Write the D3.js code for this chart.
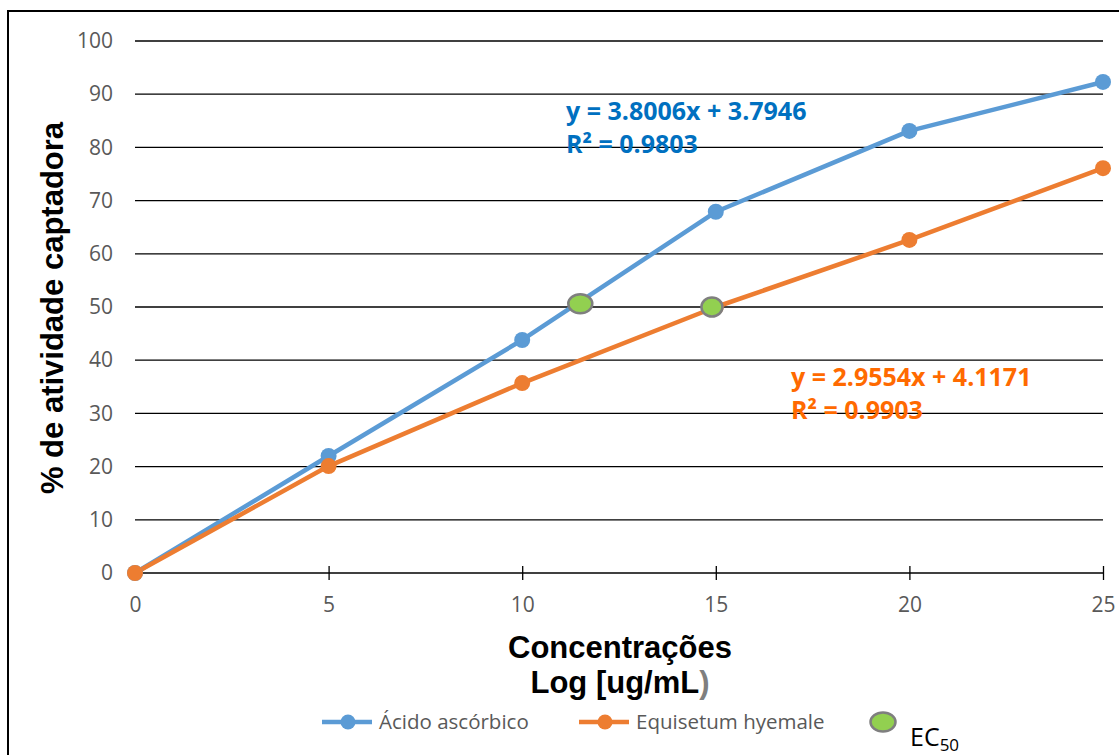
<!DOCTYPE html>
<html>
<head>
<meta charset="utf-8">
<script src="https://cdn.jsdelivr.net/npm/d3@7"></script>
<style>
  body { margin: 0; background: #fff; }
  svg { display: block; }
</style>
</head>
<body>
<div id="chart"></div>
<script>
// data
const concentrations = [0, 5, 10, 15, 20, 25];
const acidoValues = [0, 22, 43.8, 67.9, 83.1, 92.3];
const equisetumValues = [0, 20.1, 35.7, 50, 62.6, 76.1];
const ec50X = [11.5, 14.9];
const ec50Y = [50.6, 50];
const xTicks = [0, 5, 10, 15, 20, 25];
const yTicks = [0, 10, 20, 30, 40, 50, 60, 70, 80, 90, 100];

const width = 1119, height = 755;
const blue = "#5b9bd5", orange = "#ed7d31", green = "#92d050";

const svg = d3.select("#chart").append("svg")
    .attr("width", width)
    .attr("height", height);

// outer chart frame (runs past the window on the right / bottom)
svg.append("rect")
    .attr("x", 8).attr("y", 11)
    .attr("width", width + 20).attr("height", height + 20)
    .attr("fill", "white")
    .attr("stroke", "black")
    .attr("stroke-width", 2);

const x = d3.scaleLinear().domain([0, 25]).range([135, 1103]);
const y = d3.scaleLinear().domain([0, 100]).range([573, 41]);

// horizontal grid
svg.append("g")
    .selectAll("line")
    .data(yTicks.filter(d => d > 0))
    .enter().append("line")
    .attr("x1", x(0)).attr("x2", x(25))
    .attr("y1", d => y(d)).attr("y2", d => y(d))
    .attr("stroke", "black")
    .attr("stroke-width", 1.3);

// y tick labels
const yAxis = d3.axisLeft(y).tickValues(yTicks).tickSize(0).tickPadding(22);
const gy = svg.append("g")
    .attr("transform", `translate(${x(0)},0)`)
    .call(yAxis);
gy.select(".domain").remove();
gy.selectAll("text")
    .attr("fill", "#595959")
    .style("font-family", "'Open Sans', sans-serif")
    .style("font-size", "21px");

// x axis
const xAxis = d3.axisBottom(x).tickValues(xTicks).tickSize(7).tickPadding(17);
const gx = svg.append("g")
    .attr("transform", `translate(0,${y(0)})`)
    .call(xAxis);
gx.select(".domain").attr("stroke", "black").attr("stroke-width", 1.3).attr("d", `M${x(0)},0H${x(25)}`);
gx.selectAll(".tick line").attr("stroke", "black").attr("stroke-width", 1.3).attr("y1", -7).attr("y2", 7);
gx.selectAll("text")
    .attr("fill", "#595959")
    .style("font-family", "'Open Sans', sans-serif")
    .style("font-size", "21px");

// axis titles
svg.append("text")
    .attr("transform", `translate(63,${308}) rotate(-90)`)
    .attr("text-anchor", "middle")
    .style("font-family", "'Liberation Sans', Arial, sans-serif")
    .style("font-weight", "bold")
    .style("font-size", "31px")
    .text("% de atividade captadora");

svg.append("text")
    .attr("x", 620).attr("y", 658)
    .attr("text-anchor", "middle")
    .style("font-family", "'Liberation Sans', Arial, sans-serif")
    .style("font-weight", "bold")
    .style("font-size", "31px")
    .text("Concentrações");

const xt2 = svg.append("text")
    .attr("x", 620).attr("y", 693)
    .attr("text-anchor", "middle")
    .style("font-family", "'Liberation Sans', Arial, sans-serif")
    .style("font-weight", "bold")
    .style("font-size", "31px");
xt2.append("tspan").text("Log [ug/mL");
xt2.append("tspan").attr("fill", "#7f7f7f").text(")");

// series
const line = d3.line().x(d => x(d[0])).y(d => y(d[1]));
const series = [
    {name: "Ácido ascórbico", values: acidoValues, color: blue},
    {name: "Equisetum hyemale", values: equisetumValues, color: orange}
];

series.forEach(s => {
    const pts = concentrations.map((c, i) => [c, s.values[i]]);
    svg.append("path")
        .datum(pts)
        .attr("d", line)
        .attr("fill", "none")
        .attr("stroke", s.color)
        .attr("stroke-width", 4.5)
        .attr("stroke-linejoin", "round");
});
// markers after both lines (orange on top like the picture)
series.forEach(s => {
    svg.append("g").selectAll("circle")
        .data(concentrations.map((c, i) => [c, s.values[i]]))
        .enter().append("circle")
        .attr("cx", d => x(d[0]))
        .attr("cy", d => y(d[1]))
        .attr("r", 8)
        .attr("fill", s.color);
});

// EC50 markers
svg.append("g").selectAll("ellipse")
    .data(ec50X.map((v, i) => [v, ec50Y[i]]))
    .enter().append("ellipse")
    .attr("cx", d => x(d[0]))
    .attr("cy", d => y(d[1]))
    .attr("rx", (d, i) => i === 0 ? 12 : 10.5)
    .attr("ry", 9.5)
    .attr("fill", green)
    .attr("stroke", "#7f7f7f")
    .attr("stroke-width", 2.5);

// regression equations
function equation(xPos, yPos, color, l1, l2) {
    const t = svg.append("text")
        .attr("fill", color)
        .style("font-family", "'Open Sans', sans-serif")
        .style("font-weight", "bold")
        .style("font-size", "25px");
    t.append("tspan").attr("x", xPos).attr("y", yPos).text(l1);
    t.append("tspan").attr("x", xPos).attr("y", yPos + 33).text(l2);
}
equation(566, 120, "#0070c0", "y = 3.8006x + 3.7946", "R² = 0.9803");
equation(791, 386, "#ff6a00", "y = 2.9554x + 4.1171", "R² = 0.9903");

// legend
const legend = svg.append("g").attr("transform", "translate(0,722)");
const legendItems = [
    {name: series[0].name, color: blue, x0: 322},
    {name: series[1].name, color: orange, x0: 579}
];
legendItems.forEach(it => {
    legend.append("line")
        .attr("x1", it.x0).attr("x2", it.x0 + 50)
        .attr("y1", 0).attr("y2", 0)
        .attr("stroke", it.color)
        .attr("stroke-width", 4.5);
    legend.append("circle")
        .attr("cx", it.x0 + 26).attr("cy", 0)
        .attr("r", 7.5)
        .attr("fill", it.color);
    legend.append("text")
        .attr("x", it.x0 + 57).attr("y", 7)
        .attr("fill", "#595959")
        .style("font-family", "'Open Sans', sans-serif")
        .style("font-size", "20.5px")
        .text(it.name);
});
legend.append("ellipse")
    .attr("cx", 883).attr("cy", 0)
    .attr("rx", 12.5).attr("ry", 9.5)
    .attr("fill", green)
    .attr("stroke", "#7f7f7f")
    .attr("stroke-width", 2.5);
const ecText = legend.append("text")
    .attr("x", 910).attr("y", 24)
    .style("font-family", "'Open Sans', sans-serif")
    .style("font-size", "25px")
    .attr("fill", "black");
ecText.append("tspan").text("EC");
ecText.append("tspan").attr("dy", 5).style("font-size", "17px").text("50");
</script>
</body>
</html>
